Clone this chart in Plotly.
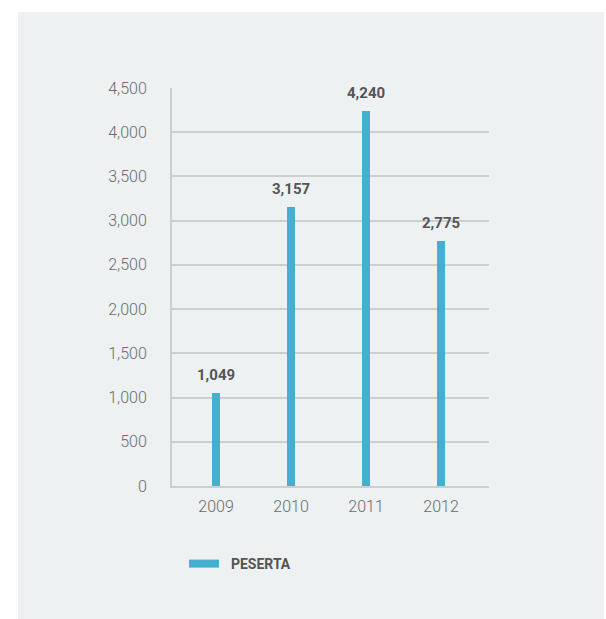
import plotly.graph_objects as go

# Participants per year
years = ["2009", "2010", "2011", "2012"]
peserta = [1049, 3157, 4240, 2775]
y_ticks = [0, 500, 1000, 1500, 2000, 2500, 3000, 3500, 4000, 4500]
series_name = "PESERTA"

W, H = 606, 619
L, R, T, B = 172, 117, 88, 133
plot_w = W - L - R
plot_h = H - T - B

bar_color = "#45afcf"
panel_color = "#edf1f2"
grid_color = "#cbcfd0"


def px_to_paper_x(px):
    return (px - L) / plot_w


def px_to_paper_y(py):
    return (H - B - py) / plot_h


fig = go.Figure()

fig.add_trace(go.Bar(
    x=years,
    y=peserta,
    width=0.107,
    marker=dict(color=bar_color, line=dict(width=0)),
    showlegend=False,
    hoverinfo="x+y",
))

# legend entry drawn as a thick line swatch
fig.add_trace(go.Scatter(
    x=[None], y=[None],
    mode="lines",
    line=dict(color=bar_color, width=8),
    name="&nbsp;&nbsp;<b>" + series_name + "</b>",
    showlegend=True,
))

# value labels above each bar
for i, v in enumerate(peserta):
    fig.add_annotation(
        x=i, y=v, xref="x", yref="y",
        text="<b>{:,}</b>".format(v),
        showarrow=False, yanchor="bottom", yshift=7,
        font=dict(family="Roboto", size=15, color="#555555"),
    )

# light grey panel behind the chart
fig.add_shape(
    type="rect", xref="paper", yref="paper", layer="below",
    x0=px_to_paper_x(18), x1=px_to_paper_x(604),
    y0=px_to_paper_y(619), y1=px_to_paper_y(12),
    fillcolor=panel_color, line=dict(width=0),
)

fig.update_layout(
    width=W, height=H,
    margin=dict(l=L, r=R, t=T, b=B, pad=0),
    paper_bgcolor="white",
    plot_bgcolor="rgba(0,0,0,0)",
    font=dict(family="Roboto", color="#6b6b6b"),
    bargap=0,
    legend=dict(
        x=px_to_paper_x(184), xanchor="left",
        y=px_to_paper_y(564), yanchor="middle",
        orientation="h",
        bgcolor="rgba(0,0,0,0)",
        font=dict(family="Roboto", size=14, color="#555555"),
        itemwidth=30,
    ),
    xaxis=dict(
        type="category",
        range=[-0.587, 3.64],
        showgrid=False,
        showline=True, linecolor=grid_color, linewidth=2,
        ticks="", ticklabelstandoff=5,
        tickfont=dict(family="Roboto", size=16, color="#6b6b6b", weight=300),
        zeroline=False,
    ),
    yaxis=dict(
        range=[0, 4500],
        tickvals=y_ticks,
        ticktext=["{:,}".format(t) for t in y_ticks],
        showgrid=True, gridcolor=grid_color, gridwidth=2,
        showline=True, linecolor=grid_color, linewidth=2,
        zeroline=False,
        ticks="", ticklabelstandoff=20,
        tickfont=dict(family="Roboto", size=16, color="#6b6b6b", weight=300),
    ),
)

fig.write_html("out.html")
